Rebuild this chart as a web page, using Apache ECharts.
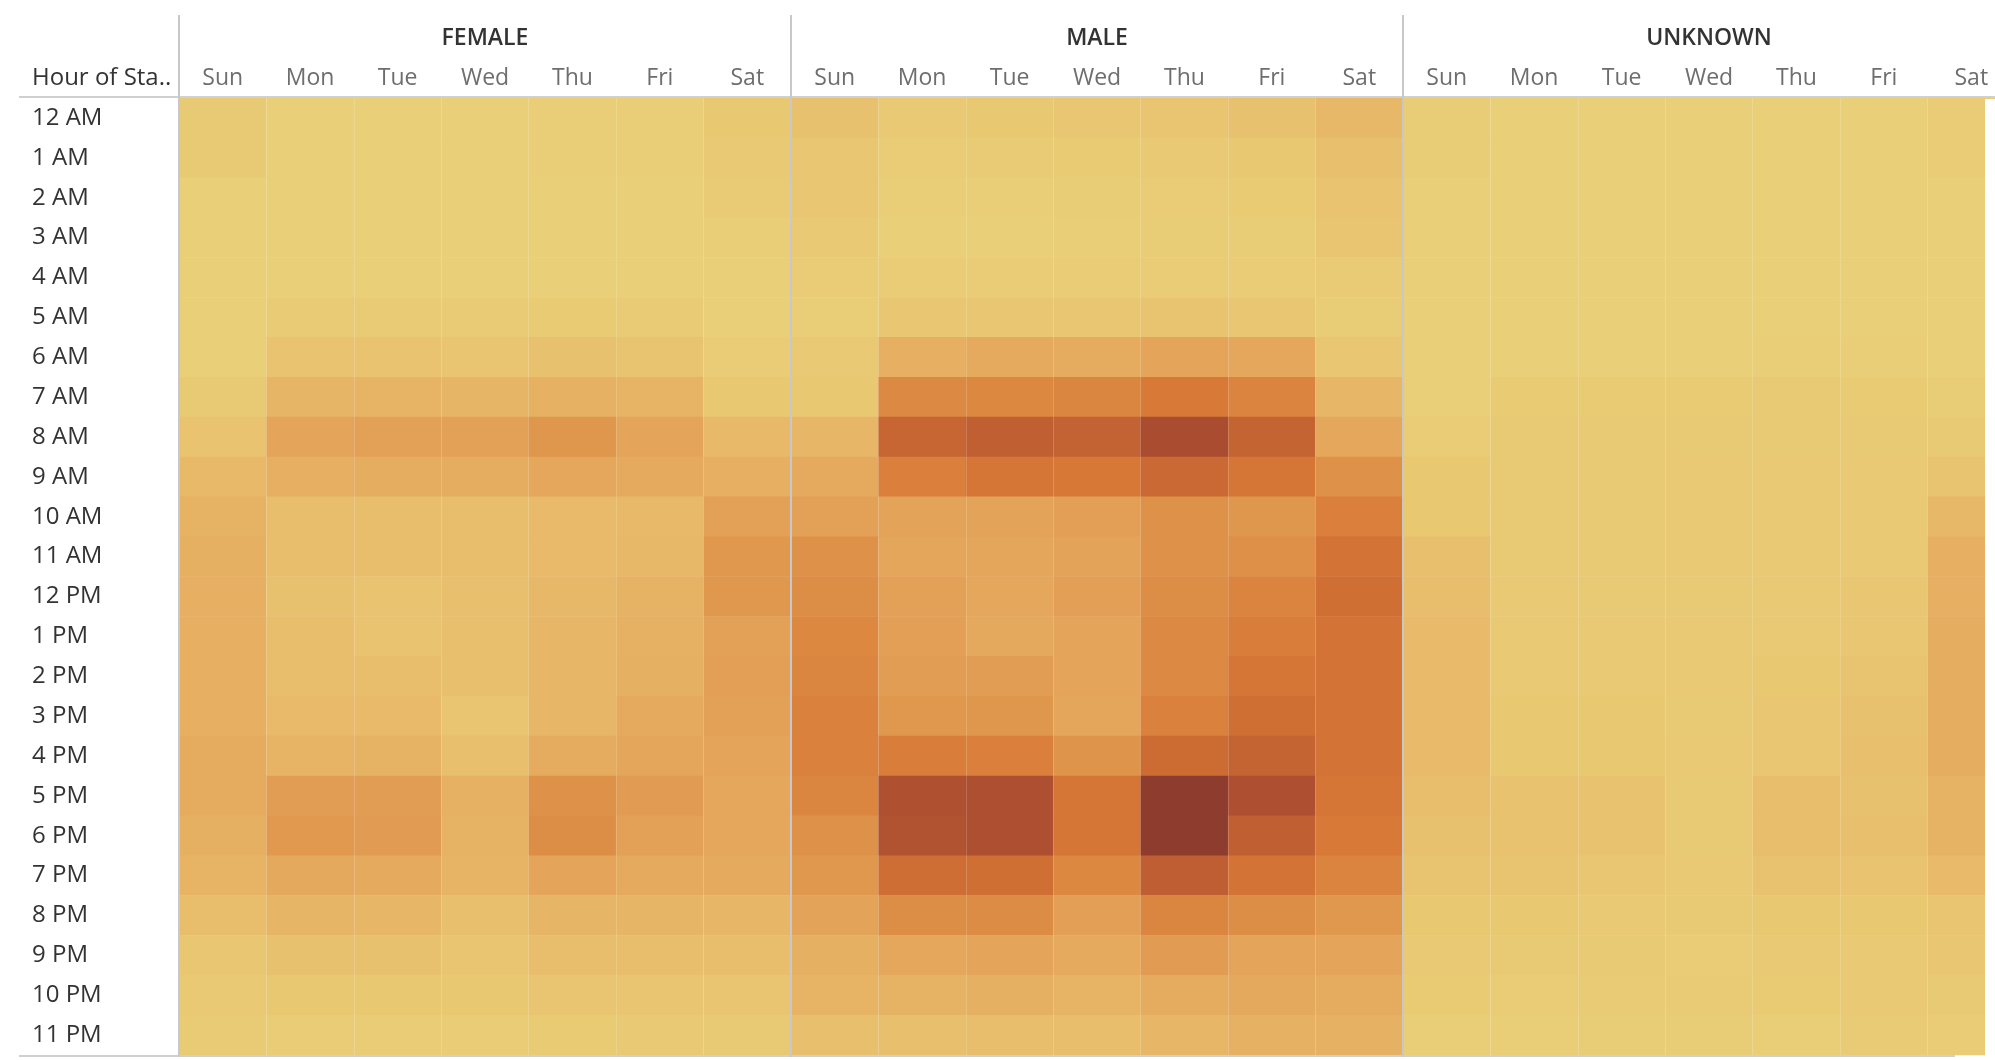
<!DOCTYPE html>
<html>
<head>
<meta charset="utf-8">
<script src="https://cdn.jsdelivr.net/npm/echarts@6/dist/echarts.min.js"></script>
<style>
  html, body { margin: 0; padding: 0; background: #fff; overflow: hidden; }
  #chart { width: 2030px; height: 1060px; }
</style>
</head>
<body>
<div id="chart"></div>
<script>
var days = ['Sun', 'Mon', 'Tue', 'Wed', 'Thu', 'Fri', 'Sat']
var hours = ['12 AM', '1 AM', '2 AM', '3 AM', '4 AM', '5 AM', '6 AM', '7 AM', '8 AM', '9 AM', '10 AM', '11 AM',
  '12 PM', '1 PM', '2 PM', '3 PM', '4 PM', '5 PM', '6 PM', '7 PM', '8 PM', '9 PM', '10 PM', '11 PM']
var genders = ['FEMALE', 'MALE', 'UNKNOWN']

// trip intensity per hour (rows) and weekday (Sun..Sat)
var female = [
  [9, 3, 3, 3, 4, 4, 11],
  [9, 3, 3, 3, 4, 4, 10],
  [3, 2, 2, 2, 3, 3, 7],
  [2, 2, 2, 2, 2, 2, 4],
  [2, 2, 2, 2, 2, 2, 2],
  [2, 7, 7, 7, 8, 7, 3],
  [3, 15, 15, 13, 17, 14, 6],
  [9, 26, 27, 26, 29, 27, 11],
  [15, 38, 40, 40, 46, 38, 23],
  [23, 31, 32, 32, 36, 34, 31],
  [28, 19, 19, 19, 22, 23, 40],
  [30, 19, 19, 19, 22, 24, 45],
  [31, 17, 15, 18, 24, 28, 45],
  [31, 20, 15, 18, 25, 29, 40],
  [31, 20, 19, 18, 25, 30, 41],
  [31, 22, 22, 13, 25, 34, 40],
  [33, 27, 28, 18, 33, 37, 38],
  [33, 42, 42, 29, 48, 43, 36],
  [30, 44, 43, 28, 50, 40, 36],
  [27, 35, 34, 27, 38, 34, 34],
  [19, 26, 25, 18, 26, 26, 25],
  [12, 17, 17, 13, 19, 19, 19],
  [10, 11, 11, 11, 13, 13, 13],
  [7, 6, 6, 6, 8, 10, 9]
]
var male = [
  [17, 10, 11, 12, 13, 17, 24],
  [12, 6, 7, 8, 10, 11, 18],
  [12, 4, 4, 5, 6, 8, 15],
  [10, 3, 3, 4, 5, 5, 13],
  [6, 6, 6, 6, 6, 6, 7],
  [4, 12, 12, 12, 14, 12, 5],
  [10, 31, 34, 33, 38, 36, 12],
  [11, 52, 53, 54, 60, 55, 25],
  [25, 73, 78, 76, 90, 75, 36],
  [34, 57, 62, 61, 71, 62, 48],
  [40, 39, 39, 41, 48, 46, 57],
  [48, 37, 37, 39, 48, 49, 64],
  [50, 40, 36, 41, 50, 55, 67],
  [53, 41, 35, 38, 52, 58, 64],
  [54, 42, 42, 38, 52, 62, 64],
  [56, 45, 46, 37, 56, 67, 64],
  [56, 58, 57, 47, 69, 75, 64],
  [54, 87, 88, 62, 100, 88, 62],
  [48, 86, 88, 62, 100, 78, 60],
  [45, 68, 67, 53, 79, 64, 55],
  [39, 50, 51, 41, 54, 50, 45],
  [30, 36, 38, 34, 43, 38, 38],
  [27, 28, 30, 27, 33, 35, 33],
  [18, 18, 19, 19, 25, 29, 29]
]
var unknown = [
  [5, 2, 2, 2, 2, 2, 6],
  [5, 2, 2, 2, 2, 2, 6],
  [2, 2, 2, 2, 2, 2, 2],
  [2, 2, 2, 2, 2, 2, 2],
  [2, 2, 2, 2, 2, 2, 2],
  [2, 2, 2, 2, 2, 2, 2],
  [2, 3, 3, 3, 4, 4, 2],
  [2, 8, 8, 8, 9, 8, 5],
  [6, 9, 9, 9, 9, 9, 9],
  [11, 9, 9, 10, 10, 10, 14],
  [11, 9, 9, 10, 10, 10, 24],
  [18, 9, 9, 10, 10, 10, 31],
  [19, 10, 9, 9, 10, 12, 31],
  [22, 10, 10, 10, 10, 12, 32],
  [22, 10, 10, 10, 11, 14, 32],
  [22, 11, 11, 9, 12, 17, 32],
  [22, 11, 11, 10, 12, 18, 32],
  [20, 16, 16, 9, 19, 17, 28],
  [17, 16, 16, 9, 19, 18, 28],
  [14, 14, 12, 10, 16, 15, 22],
  [11, 11, 10, 9, 11, 11, 13],
  [10, 9, 9, 6, 10, 10, 12],
  [8, 6, 7, 7, 8, 10, 9],
  [4, 4, 5, 5, 4, 7, 6]
]

var chart = echarts.init(document.getElementById('chart'))

var panels = [female, male, unknown]
var panelLeft = [179, 791, 1403]
var panelWidth = 612
var top0 = 98
var gridH = 957
var font = '"Open Sans", "Noto Sans", sans-serif'

function toCells(rows) {
  var out = []
  rows.forEach(function (row, h) {
    row.forEach(function (v, d) {
      out.push([d, h, v])
    })
  })
  return out
}

var grids = [], xAxes = [], yAxes = [], series = []
panels.forEach(function (rows, i) {
  grids.push({ left: panelLeft[i], top: top0, width: panelWidth, height: gridH })
  xAxes.push({
    type: 'category',
    gridIndex: i,
    data: days,
    position: 'top',
    name: genders[i],
    nameLocation: 'middle',
    nameGap: 48,
    nameTextStyle: { fontFamily: font, fontSize: 23, fontWeight: 600, color: '#333' },
    axisLine: { show: false },
    axisTick: { show: false },
    axisLabel: { fontFamily: font, fontSize: 23, color: '#6e6e6e', margin: 8 },
    splitLine: { show: true, lineStyle: { color: 'rgba(255,255,255,0.18)', width: 1 } },
    z: 5
  })
  yAxes.push({
    type: 'category',
    gridIndex: i,
    data: hours,
    inverse: true,
    axisLine: { show: false },
    axisTick: { show: false },
    axisLabel: i === 0
      ? { show: true, fontFamily: font, fontSize: 24, color: '#333', align: 'left', margin: 147 }
      : { show: false },
    splitLine: { show: false }
  })
  series.push({
    type: 'heatmap',
    xAxisIndex: i,
    yAxisIndex: i,
    data: toCells(rows),
    itemStyle: { borderWidth: 0 },
    emphasis: { disabled: true }
  })
})

var lineColor = '#d0d0d0'
var option = {
  backgroundColor: '#fff',
  animation: false,
  grid: grids,
  xAxis: xAxes,
  yAxis: yAxes,
  visualMap: {
    show: false,
    min: 0,
    max: 100,
    dimension: 2,
    seriesIndex: [0, 1, 2],
    inRange: {
      color: ['#e9d179', '#e9c973', '#e8bd6c', '#e6b062', '#e3a157', '#dd8e46',
        '#d87937', '#cb6a33', '#bd5d32', '#a94c2f', '#8e3c2d']
    }
  },
  series: series,
  graphic: [
    // cropped edge of the last panel
    { type: 'rect', z: 50, shape: { x: 1985, y: 99, width: 60, height: 965 }, style: { fill: '#fff' } },
    { type: 'text', z: 60, left: 32, top: 66, style: { text: 'Hour of Sta..', font: '24px ' + font, fill: '#333' } },
    { type: 'line', z: 60, shape: { x1: 19, y1: 97, x2: 2030, y2: 97 }, style: { stroke: lineColor, lineWidth: 2 } },
    { type: 'line', z: 60, shape: { x1: 19, y1: 1056, x2: 1955, y2: 1056 }, style: { stroke: lineColor, lineWidth: 2 } },
    { type: 'line', z: 60, shape: { x1: 179, y1: 15, x2: 179, y2: 1057 }, style: { stroke: '#c8c8c8', lineWidth: 2 } },
    { type: 'line', z: 60, shape: { x1: 791, y1: 15, x2: 791, y2: 1057 }, style: { stroke: '#c8c8c8', lineWidth: 2 } },
    { type: 'line', z: 60, shape: { x1: 1403, y1: 15, x2: 1403, y2: 1057 }, style: { stroke: '#c8c8c8', lineWidth: 2 } }
  ]
}
chart.setOption(option)
</script>
</body>
</html>
